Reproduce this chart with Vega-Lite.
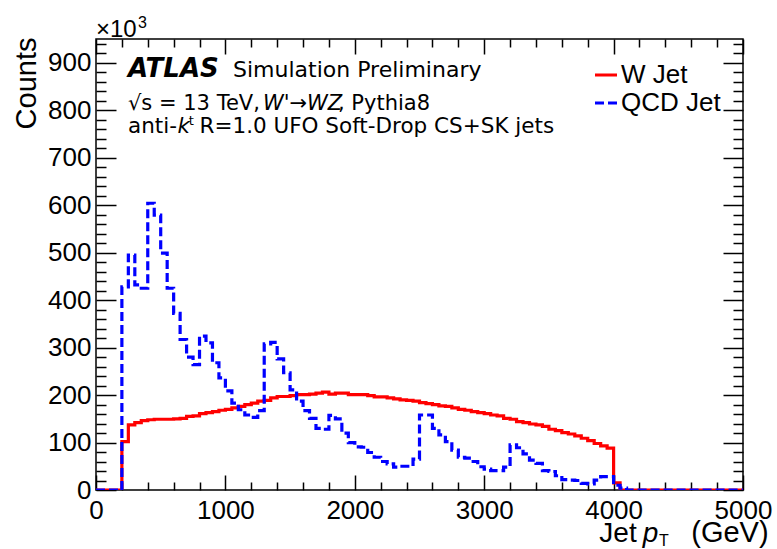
{
  "$schema": "https://vega.github.io/schema/vega-lite/v6.json",
  "width": 647,
  "height": 451,
  "autosize": {"type": "none"},
  "padding": {"left": 96, "top": 39, "right": 34, "bottom": 59},
  "background": "white",
  "config": {
    "view": {"stroke": "#000000", "strokeWidth": 1.5},
    "axis": {
      "domain": false,
      "grid": false,
      "labelFont": "Liberation Sans",
      "labelFontSize": 26,
      "labelColor": "#000000",
      "tickColor": "#000000",
      "tickWidth": 1.5,
      "labelOverlap": false,
      "labelFlush": false
    },
    "text": {"font": "DejaVu Sans", "color": "#000000", "align": "left", "baseline": "alphabetic"}
  },
  "datasets": {
    "hist": [
      {"pt": 0, "n": 0, "series": "W Jet"},
      {"pt": 200, "n": 102, "series": "W Jet"},
      {"pt": 250, "n": 137, "series": "W Jet"},
      {"pt": 300, "n": 142, "series": "W Jet"},
      {"pt": 350, "n": 146, "series": "W Jet"},
      {"pt": 400, "n": 148, "series": "W Jet"},
      {"pt": 450, "n": 149, "series": "W Jet"},
      {"pt": 500, "n": 149, "series": "W Jet"},
      {"pt": 550, "n": 149, "series": "W Jet"},
      {"pt": 600, "n": 150, "series": "W Jet"},
      {"pt": 650, "n": 151, "series": "W Jet"},
      {"pt": 700, "n": 155, "series": "W Jet"},
      {"pt": 750, "n": 156, "series": "W Jet"},
      {"pt": 800, "n": 161, "series": "W Jet"},
      {"pt": 850, "n": 163, "series": "W Jet"},
      {"pt": 900, "n": 165, "series": "W Jet"},
      {"pt": 950, "n": 168, "series": "W Jet"},
      {"pt": 1000, "n": 170, "series": "W Jet"},
      {"pt": 1050, "n": 173, "series": "W Jet"},
      {"pt": 1100, "n": 176, "series": "W Jet"},
      {"pt": 1150, "n": 180, "series": "W Jet"},
      {"pt": 1200, "n": 183, "series": "W Jet"},
      {"pt": 1250, "n": 187, "series": "W Jet"},
      {"pt": 1300, "n": 189, "series": "W Jet"},
      {"pt": 1350, "n": 194, "series": "W Jet"},
      {"pt": 1400, "n": 197, "series": "W Jet"},
      {"pt": 1450, "n": 197, "series": "W Jet"},
      {"pt": 1500, "n": 199, "series": "W Jet"},
      {"pt": 1550, "n": 201, "series": "W Jet"},
      {"pt": 1600, "n": 201, "series": "W Jet"},
      {"pt": 1650, "n": 202, "series": "W Jet"},
      {"pt": 1700, "n": 204, "series": "W Jet"},
      {"pt": 1750, "n": 206, "series": "W Jet"},
      {"pt": 1800, "n": 202, "series": "W Jet"},
      {"pt": 1850, "n": 204, "series": "W Jet"},
      {"pt": 1900, "n": 204, "series": "W Jet"},
      {"pt": 1950, "n": 201, "series": "W Jet"},
      {"pt": 2000, "n": 201, "series": "W Jet"},
      {"pt": 2050, "n": 201, "series": "W Jet"},
      {"pt": 2100, "n": 199, "series": "W Jet"},
      {"pt": 2150, "n": 196, "series": "W Jet"},
      {"pt": 2200, "n": 196, "series": "W Jet"},
      {"pt": 2250, "n": 194, "series": "W Jet"},
      {"pt": 2300, "n": 192, "series": "W Jet"},
      {"pt": 2350, "n": 190, "series": "W Jet"},
      {"pt": 2400, "n": 189, "series": "W Jet"},
      {"pt": 2450, "n": 187, "series": "W Jet"},
      {"pt": 2500, "n": 184, "series": "W Jet"},
      {"pt": 2550, "n": 182, "series": "W Jet"},
      {"pt": 2600, "n": 180, "series": "W Jet"},
      {"pt": 2650, "n": 177, "series": "W Jet"},
      {"pt": 2700, "n": 176, "series": "W Jet"},
      {"pt": 2750, "n": 173, "series": "W Jet"},
      {"pt": 2800, "n": 170, "series": "W Jet"},
      {"pt": 2850, "n": 168, "series": "W Jet"},
      {"pt": 2900, "n": 165, "series": "W Jet"},
      {"pt": 2950, "n": 163, "series": "W Jet"},
      {"pt": 3000, "n": 161, "series": "W Jet"},
      {"pt": 3050, "n": 158, "series": "W Jet"},
      {"pt": 3100, "n": 156, "series": "W Jet"},
      {"pt": 3150, "n": 151, "series": "W Jet"},
      {"pt": 3200, "n": 149, "series": "W Jet"},
      {"pt": 3250, "n": 144, "series": "W Jet"},
      {"pt": 3300, "n": 142, "series": "W Jet"},
      {"pt": 3350, "n": 139, "series": "W Jet"},
      {"pt": 3400, "n": 137, "series": "W Jet"},
      {"pt": 3450, "n": 134, "series": "W Jet"},
      {"pt": 3500, "n": 128, "series": "W Jet"},
      {"pt": 3550, "n": 125, "series": "W Jet"},
      {"pt": 3600, "n": 121, "series": "W Jet"},
      {"pt": 3650, "n": 118, "series": "W Jet"},
      {"pt": 3700, "n": 114, "series": "W Jet"},
      {"pt": 3750, "n": 109, "series": "W Jet"},
      {"pt": 3800, "n": 104, "series": "W Jet"},
      {"pt": 3850, "n": 98, "series": "W Jet"},
      {"pt": 3900, "n": 93, "series": "W Jet"},
      {"pt": 3950, "n": 88, "series": "W Jet"},
      {"pt": 4000, "n": 15, "series": "W Jet"},
      {"pt": 4050, "n": 0, "series": "W Jet"},
      {"pt": 5000, "n": 0, "series": "W Jet"},
      {"pt": 0, "n": 0, "series": "QCD Jet"},
      {"pt": 200, "n": 428, "series": "QCD Jet"},
      {"pt": 250, "n": 495, "series": "QCD Jet"},
      {"pt": 300, "n": 432, "series": "QCD Jet"},
      {"pt": 350, "n": 425, "series": "QCD Jet"},
      {"pt": 400, "n": 604, "series": "QCD Jet"},
      {"pt": 450, "n": 579, "series": "QCD Jet"},
      {"pt": 500, "n": 499, "series": "QCD Jet"},
      {"pt": 550, "n": 425, "series": "QCD Jet"},
      {"pt": 600, "n": 372, "series": "QCD Jet"},
      {"pt": 650, "n": 317, "series": "QCD Jet"},
      {"pt": 700, "n": 280, "series": "QCD Jet"},
      {"pt": 750, "n": 264, "series": "QCD Jet"},
      {"pt": 800, "n": 324, "series": "QCD Jet"},
      {"pt": 850, "n": 310, "series": "QCD Jet"},
      {"pt": 900, "n": 268, "series": "QCD Jet"},
      {"pt": 950, "n": 236, "series": "QCD Jet"},
      {"pt": 1000, "n": 209, "series": "QCD Jet"},
      {"pt": 1050, "n": 183, "series": "QCD Jet"},
      {"pt": 1100, "n": 169, "series": "QCD Jet"},
      {"pt": 1150, "n": 158, "series": "QCD Jet"},
      {"pt": 1200, "n": 153, "series": "QCD Jet"},
      {"pt": 1250, "n": 167, "series": "QCD Jet"},
      {"pt": 1300, "n": 308, "series": "QCD Jet"},
      {"pt": 1350, "n": 311, "series": "QCD Jet"},
      {"pt": 1400, "n": 276, "series": "QCD Jet"},
      {"pt": 1450, "n": 247, "series": "QCD Jet"},
      {"pt": 1500, "n": 211, "series": "QCD Jet"},
      {"pt": 1550, "n": 187, "series": "QCD Jet"},
      {"pt": 1600, "n": 167, "series": "QCD Jet"},
      {"pt": 1650, "n": 151, "series": "QCD Jet"},
      {"pt": 1700, "n": 130, "series": "QCD Jet"},
      {"pt": 1750, "n": 128, "series": "QCD Jet"},
      {"pt": 1800, "n": 157, "series": "QCD Jet"},
      {"pt": 1850, "n": 150, "series": "QCD Jet"},
      {"pt": 1900, "n": 120, "series": "QCD Jet"},
      {"pt": 1950, "n": 100, "series": "QCD Jet"},
      {"pt": 2000, "n": 91, "series": "QCD Jet"},
      {"pt": 2050, "n": 90, "series": "QCD Jet"},
      {"pt": 2100, "n": 79, "series": "QCD Jet"},
      {"pt": 2150, "n": 69, "series": "QCD Jet"},
      {"pt": 2200, "n": 60, "series": "QCD Jet"},
      {"pt": 2250, "n": 55, "series": "QCD Jet"},
      {"pt": 2300, "n": 48, "series": "QCD Jet"},
      {"pt": 2350, "n": 50, "series": "QCD Jet"},
      {"pt": 2400, "n": 50, "series": "QCD Jet"},
      {"pt": 2450, "n": 65, "series": "QCD Jet"},
      {"pt": 2500, "n": 158, "series": "QCD Jet"},
      {"pt": 2550, "n": 158, "series": "QCD Jet"},
      {"pt": 2600, "n": 130, "series": "QCD Jet"},
      {"pt": 2650, "n": 116, "series": "QCD Jet"},
      {"pt": 2700, "n": 102, "series": "QCD Jet"},
      {"pt": 2750, "n": 84, "series": "QCD Jet"},
      {"pt": 2800, "n": 69, "series": "QCD Jet"},
      {"pt": 2850, "n": 67, "series": "QCD Jet"},
      {"pt": 2900, "n": 60, "series": "QCD Jet"},
      {"pt": 2950, "n": 49, "series": "QCD Jet"},
      {"pt": 3000, "n": 44, "series": "QCD Jet"},
      {"pt": 3050, "n": 41, "series": "QCD Jet"},
      {"pt": 3100, "n": 41, "series": "QCD Jet"},
      {"pt": 3150, "n": 48, "series": "QCD Jet"},
      {"pt": 3200, "n": 95, "series": "QCD Jet"},
      {"pt": 3250, "n": 89, "series": "QCD Jet"},
      {"pt": 3300, "n": 76, "series": "QCD Jet"},
      {"pt": 3350, "n": 63, "series": "QCD Jet"},
      {"pt": 3400, "n": 56, "series": "QCD Jet"},
      {"pt": 3450, "n": 41, "series": "QCD Jet"},
      {"pt": 3500, "n": 39, "series": "QCD Jet"},
      {"pt": 3550, "n": 30, "series": "QCD Jet"},
      {"pt": 3600, "n": 22, "series": "QCD Jet"},
      {"pt": 3650, "n": 21, "series": "QCD Jet"},
      {"pt": 3700, "n": 20, "series": "QCD Jet"},
      {"pt": 3750, "n": 14, "series": "QCD Jet"},
      {"pt": 3800, "n": 13, "series": "QCD Jet"},
      {"pt": 3850, "n": 21, "series": "QCD Jet"},
      {"pt": 3900, "n": 28, "series": "QCD Jet"},
      {"pt": 3950, "n": 28, "series": "QCD Jet"},
      {"pt": 4000, "n": 10, "series": "QCD Jet"},
      {"pt": 4050, "n": 4, "series": "QCD Jet"},
      {"pt": 4100, "n": 0, "series": "QCD Jet"},
      {"pt": 5000, "n": 0, "series": "QCD Jet"}
    ]
  },
  "layer": [
    {
      "data": {"name": "hist"},
      "mark": {"type": "line", "interpolate": "step-after", "strokeWidth": 3.2, "clip": true},
      "encoding": {
        "x": {
          "field": "pt", "type": "quantitative",
          "scale": {"domain": [0, 5000], "nice": false, "zero": false},
          "axis": {
            "orient": "bottom",
            "values": [0,200,400,600,800,1000,1200,1400,1600,1800,2000,2200,2400,2600,2800,3000,3200,3400,3600,3800,4000,4200,4400,4600,4800,5000],
            "format": "d",
            "labelExpr": "datum.value % 1000 === 0 ? datum.label : ''",
            "tickSize": {"condition": {"test": "datum.value % 1000 === 0", "value": -15}, "value": -8},
            "labelPadding": 22,
            "title": null
          }
        },
        "y": {
          "field": "n", "type": "quantitative",
          "scale": {"domain": [0, 950], "nice": false},
          "axis": {
            "orient": "left",
            "values": [0,20,40,60,80,100,120,140,160,180,200,220,240,260,280,300,320,340,360,380,400,420,440,460,480,500,520,540,560,580,600,620,640,660,680,700,720,740,760,780,800,820,840,860,880,900,920,940],
            "format": "d",
            "labelExpr": "datum.value % 100 === 0 ? datum.label : ''",
            "tickSize": {"condition": {"test": "datum.value % 100 === 0", "value": -20}, "value": -10},
            "labelPadding": 25,
            "title": "Counts",
            "titleFont": "Liberation Sans",
            "titleFontSize": 29,
            "titleFontWeight": "normal",
            "titleColor": "#000000",
            "titleAngle": 270,
            "titleAlign": "right",
            "titleBaseline": "alphabetic",
            "titleX": -61,
            "titleY": -2
          }
        },
        "color": {
          "field": "series", "type": "nominal",
          "scale": {"domain": ["W Jet", "QCD Jet"], "range": ["#ff0000", "#0000ff"]},
          "legend": {
            "title": null,
            "orient": "none",
            "legendX": 497,
            "legendY": 23,
            "symbolType": "stroke",
            "symbolSize": 484,
            "symbolStrokeWidth": 3.2,
            "labelFont": "Liberation Sans",
            "labelFontSize": 26,
            "labelColor": "#000000",
            "labelOffset": 2,
            "rowPadding": 2
          }
        },
        "strokeDash": {
          "field": "series", "type": "nominal",
          "scale": {"domain": ["W Jet", "QCD Jet"], "range": [[1, 0], [9, 4]]},
          "legend": {
            "title": null,
            "orient": "none",
            "legendX": 497,
            "legendY": 23,
            "symbolType": "stroke",
            "symbolSize": 484,
            "symbolStrokeWidth": 3.2,
            "labelFont": "Liberation Sans",
            "labelFontSize": 26,
            "labelColor": "#000000",
            "labelOffset": 2,
            "rowPadding": 2
          }
        }
      }
    },
    {
      "data": {"name": "hist"},
      "mark": {"type": "line", "opacity": 0},
      "encoding": {
        "x": {
          "field": "pt", "type": "quantitative",
          "scale": {"domain": [0, 5000], "nice": false, "zero": false},
          "axis": {
            "orient": "top",
            "values": [0,200,400,600,800,1000,1200,1400,1600,1800,2000,2200,2400,2600,2800,3000,3200,3400,3600,3800,4000,4200,4400,4600,4800,5000],
            "labels": false,
            "tickSize": {"condition": {"test": "datum.value % 1000 === 0", "value": -15}, "value": -8},
            "title": null
          }
        },
        "y": {
          "field": "n", "type": "quantitative",
          "scale": {"domain": [0, 950], "nice": false},
          "axis": {
            "orient": "right",
            "values": [0,20,40,60,80,100,120,140,160,180,200,220,240,260,280,300,320,340,360,380,400,420,440,460,480,500,520,540,560,580,600,620,640,660,680,700,720,740,760,780,800,820,840,860,880,900,920,940],
            "labels": false,
            "tickSize": {"condition": {"test": "datum.value % 100 === 0", "value": -20}, "value": -10},
            "title": null
          }
        }
      }
    },
    {
      "data": {"values": [{}]},
      "mark": {"type": "text", "text": "ATLAS", "font": "DejaVu Sans", "fontSize": 26, "fontWeight": "bold", "fontStyle": "italic"},
      "encoding": {
        "x": {"datum": 247, "type": "quantitative", "scale": {"domain": [0, 5000], "nice": false, "zero": false}, "axis": null},
        "y": {"datum": 870, "type": "quantitative", "scale": {"domain": [0, 950], "nice": false}, "axis": null}
      }
    },
    {
      "data": {"values": [{}]},
      "mark": {"type": "text", "text": "Simulation Preliminary", "fontSize": 22},
      "encoding": {
        "x": {"datum": 1059, "type": "quantitative", "scale": {"domain": [0, 5000], "nice": false, "zero": false}, "axis": null},
        "y": {"datum": 870, "type": "quantitative", "scale": {"domain": [0, 950], "nice": false}, "axis": null}
      }
    },
    {
      "data": {"values": [{}]},
      "mark": {"type": "text", "text": "√s = 13 TeV,", "fontSize": 21},
      "encoding": {
        "x": {"datum": 247, "type": "quantitative", "scale": {"domain": [0, 5000], "nice": false, "zero": false}, "axis": null},
        "y": {"datum": 801, "type": "quantitative", "scale": {"domain": [0, 950], "nice": false}, "axis": null}
      }
    },
    {
      "data": {"values": [{}]},
      "mark": {"type": "text", "text": "W'→WZ", "fontSize": 21, "fontStyle": "italic"},
      "encoding": {
        "x": {"datum": 1290, "type": "quantitative", "scale": {"domain": [0, 5000], "nice": false, "zero": false}, "axis": null},
        "y": {"datum": 801, "type": "quantitative", "scale": {"domain": [0, 950], "nice": false}, "axis": null}
      }
    },
    {
      "data": {"values": [{}]},
      "mark": {"type": "text", "text": ", Pythia8", "fontSize": 21},
      "encoding": {
        "x": {"datum": 1870, "type": "quantitative", "scale": {"domain": [0, 5000], "nice": false, "zero": false}, "axis": null},
        "y": {"datum": 801, "type": "quantitative", "scale": {"domain": [0, 950], "nice": false}, "axis": null}
      }
    },
    {
      "data": {"values": [{}]},
      "mark": {"type": "text", "text": "anti-", "fontSize": 21.5},
      "encoding": {
        "x": {"datum": 247, "type": "quantitative", "scale": {"domain": [0, 5000], "nice": false, "zero": false}, "axis": null},
        "y": {"datum": 752, "type": "quantitative", "scale": {"domain": [0, 950], "nice": false}, "axis": null}
      }
    },
    {
      "data": {"values": [{}]},
      "mark": {"type": "text", "text": "k", "fontSize": 21.5, "fontStyle": "italic"},
      "encoding": {
        "x": {"datum": 630, "type": "quantitative", "scale": {"domain": [0, 5000], "nice": false, "zero": false}, "axis": null},
        "y": {"datum": 752, "type": "quantitative", "scale": {"domain": [0, 950], "nice": false}, "axis": null}
      }
    },
    {
      "data": {"values": [{}]},
      "mark": {"type": "text", "text": "t", "fontSize": 13},
      "encoding": {
        "x": {"datum": 716, "type": "quantitative", "scale": {"domain": [0, 5000], "nice": false, "zero": false}, "axis": null},
        "y": {"datum": 768, "type": "quantitative", "scale": {"domain": [0, 950], "nice": false}, "axis": null}
      }
    },
    {
      "data": {"values": [{}]},
      "mark": {"type": "text", "text": "R=1.0 UFO Soft-Drop CS+SK jets", "fontSize": 21.5},
      "encoding": {
        "x": {"datum": 800, "type": "quantitative", "scale": {"domain": [0, 5000], "nice": false, "zero": false}, "axis": null},
        "y": {"datum": 752, "type": "quantitative", "scale": {"domain": [0, 950], "nice": false}, "axis": null}
      }
    },
    {
      "data": {"values": [{}]},
      "mark": {"type": "text", "text": "×10", "font": "Liberation Sans", "fontSize": 24},
      "encoding": {
        "x": {"datum": 0, "type": "quantitative", "scale": {"domain": [0, 5000], "nice": false, "zero": false}, "axis": null},
        "y": {"datum": 954, "type": "quantitative", "scale": {"domain": [0, 950], "nice": false}, "axis": null}
      }
    },
    {
      "data": {"values": [{}]},
      "mark": {"type": "text", "text": "3", "font": "Liberation Sans", "fontSize": 16},
      "encoding": {
        "x": {"datum": 325, "type": "quantitative", "scale": {"domain": [0, 5000], "nice": false, "zero": false}, "axis": null},
        "y": {"datum": 973, "type": "quantitative", "scale": {"domain": [0, 950], "nice": false}, "axis": null}
      }
    },
    {
      "data": {"values": [{}]},
      "mark": {"type": "text", "text": "Jet", "font": "Liberation Sans", "fontSize": 28},
      "encoding": {
        "x": {"datum": 3890, "type": "quantitative", "scale": {"domain": [0, 5000], "nice": false, "zero": false}, "axis": null},
        "y": {"datum": -109, "type": "quantitative", "scale": {"domain": [0, 950], "nice": false}, "axis": null}
      }
    },
    {
      "data": {"values": [{}]},
      "mark": {"type": "text", "text": "p", "font": "Liberation Sans", "fontSize": 28, "fontStyle": "italic"},
      "encoding": {
        "x": {"datum": 4225, "type": "quantitative", "scale": {"domain": [0, 5000], "nice": false, "zero": false}, "axis": null},
        "y": {"datum": -109, "type": "quantitative", "scale": {"domain": [0, 950], "nice": false}, "axis": null}
      }
    },
    {
      "data": {"values": [{}]},
      "mark": {"type": "text", "text": "T", "font": "Liberation Sans", "fontSize": 16},
      "encoding": {
        "x": {"datum": 4350, "type": "quantitative", "scale": {"domain": [0, 5000], "nice": false, "zero": false}, "axis": null},
        "y": {"datum": -117, "type": "quantitative", "scale": {"domain": [0, 950], "nice": false}, "axis": null}
      }
    },
    {
      "data": {"values": [{}]},
      "mark": {"type": "text", "text": "(GeV)", "font": "Liberation Sans", "fontSize": 29},
      "encoding": {
        "x": {"datum": 4600, "type": "quantitative", "scale": {"domain": [0, 5000], "nice": false, "zero": false}, "axis": null},
        "y": {"datum": -109, "type": "quantitative", "scale": {"domain": [0, 950], "nice": false}, "axis": null}
      }
    }
  ],
  "resolve": {"axis": {"x": "independent", "y": "independent"}}
}
